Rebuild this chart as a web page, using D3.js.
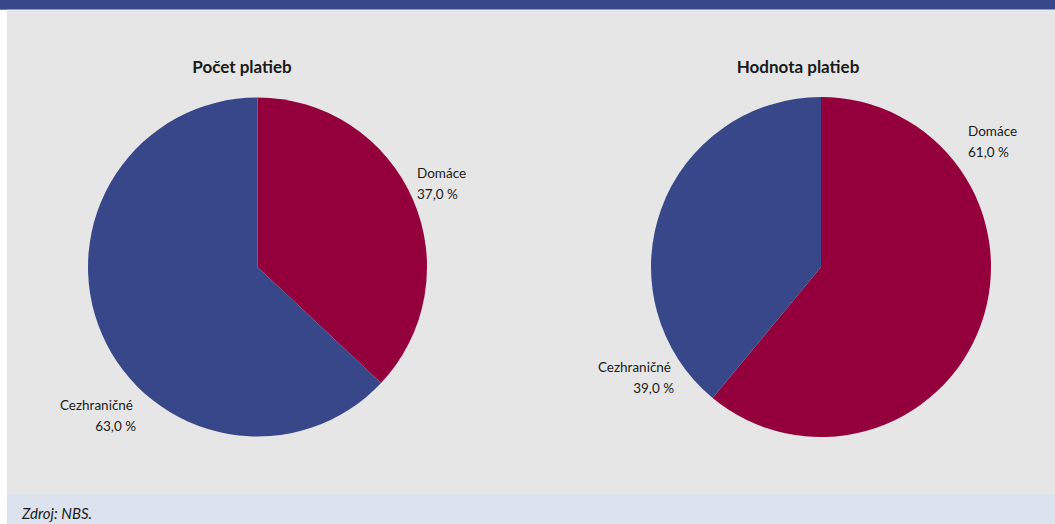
<!DOCTYPE html>
<html><head><meta charset="utf-8">
<script src="https://cdn.jsdelivr.net/npm/d3@7"></script>
<style>
html,body{margin:0;padding:0;background:#fff;}
svg{display:block;}
text{font-family:Lato,"Open Sans",sans-serif;fill:#1a1a1a;}
</style></head>
<body>
<script>
const categories = ["Domáce", "Cezhraničné"];
const pocetValues = [37.0, 63.0];
const hodnotaValues = [61.0, 39.0];
const chartTitles = ["Počet platieb", "Hodnota platieb"];
const sourceText = "Zdroj: NBS.";

const colors = {"Domáce": "#94003c", "Cezhraničné": "#37478a"};
const W = 1055, H = 524;
const svg = d3.select("body").append("svg").attr("width", W).attr("height", H);

svg.append("rect").attr("x", 0).attr("y", 0).attr("width", W).attr("height", 9.7).attr("fill", "#37478a");
svg.append("rect").attr("x", 7).attr("y", 9.7).attr("width", W - 7).attr("height", 484).attr("fill", "#e6e6e6");
svg.append("rect").attr("x", 7).attr("y", 493.7).attr("width", W - 7).attr("height", H - 493.7).attr("fill", "#dce2ee");
svg.append("text").attr("x", 22).attr("y", 519).attr("font-size", 15).attr("font-style", "italic")
  .text(sourceText);

const charts = [
  {values: pocetValues, cx: 257.5, cy: 267, r: 169.5, title: chartTitles[0], tx: 242,
   labels: [{dx: 159.5, dy: -89, anchor: "start", dx2: 159.5},
            {dx: -124.5, dy: 143, anchor: "end", dx2: -121.5}]},
  {values: hodnotaValues, cx: 821, cy: 267, r: 170, title: chartTitles[1], tx: 798,
   labels: [{dx: 147, dy: -131, anchor: "start", dx2: 147},
            {dx: -150, dy: 105, anchor: "end", dx2: -147}]}
];

const pie = d3.pie().sort(null).value(d => d.v);

charts.forEach(c => {
  const g = svg.append("g").attr("transform", `translate(${c.cx},${c.cy})`);
  const data = categories.map((k, i) => ({k, v: c.values[i]}));
  const arc = d3.arc().innerRadius(0).outerRadius(c.r);
  g.selectAll("path").data(pie(data)).join("path")
    .attr("d", arc).attr("fill", d => colors[d.data.k]);
  svg.append("text").attr("x", c.tx).attr("y", 73).attr("text-anchor", "middle")
    .attr("font-size", 17).attr("font-weight", "bold").text(c.title);
  data.forEach((d, i) => {
    const L = c.labels[i];
    g.append("text").attr("x", L.dx).attr("y", L.dy).attr("text-anchor", L.anchor)
      .attr("font-size", 13.5).text(d.k);
    g.append("text").attr("x", L.dx2).attr("y", L.dy + 20.5).attr("text-anchor", L.anchor)
      .attr("font-size", 13.5).text(d3.format(".1f")(d.v).replace(".", ",") + " %");
  });
});
</script>
</body></html>
